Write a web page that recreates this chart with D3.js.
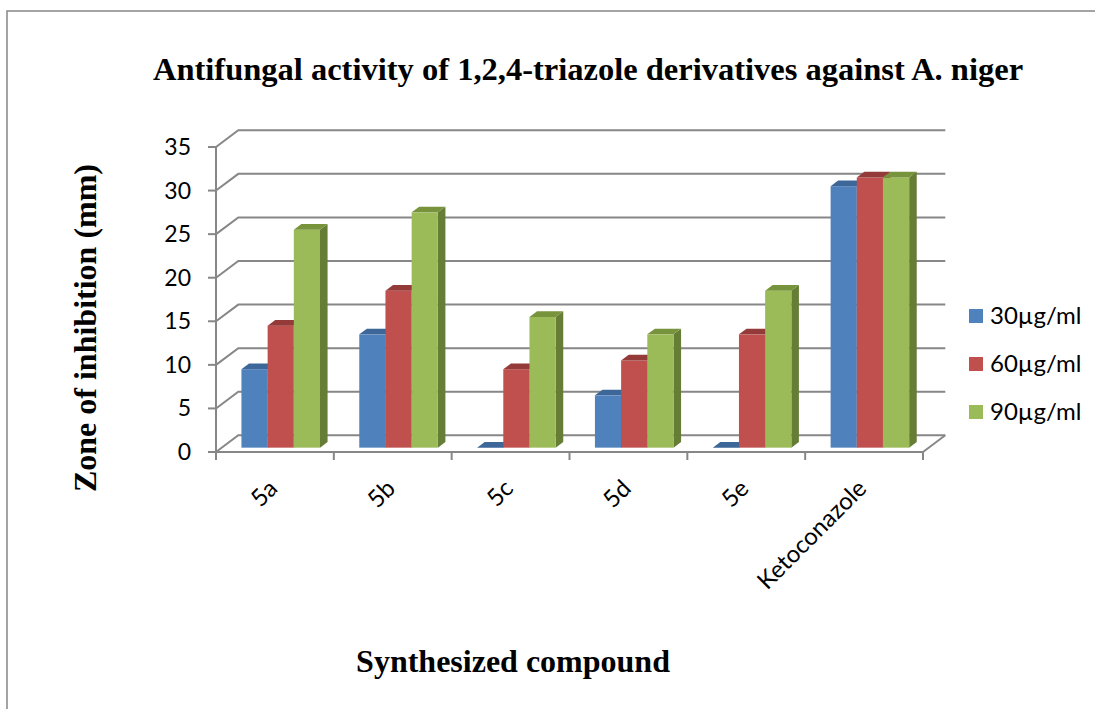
<!DOCTYPE html>
<html>
<head>
<meta charset="utf-8">
<script src="https://cdn.jsdelivr.net/npm/d3@7"></script>
<style>
  body { margin: 0; background: #fff; }
  svg { display: block; }
</style>
</head>
<body>
<div id="chart"></div>
<script>
// chart data
const compounds = ['5a', '5b', '5c', '5d', '5e', 'Ketoconazole'];
const seriesNames = ['30µg/ml', '60µg/ml', '90µg/ml'];
const conc30 = [9, 13, 0, 6, 0, 30];
const conc60 = [14, 18, 9, 10, 13, 31];
const conc90 = [25, 27, 15, 13, 18, 31];
const yTicks = [0, 5, 10, 15, 20, 25, 30, 35];

const seriesValues = [conc30, conc60, conc90];
const colors = [
  { front: '#4f81bd', top: '#3d6699', side: '#385d8a' },
  { front: '#c0504d', top: '#943a38', side: '#8c3836' },
  { front: '#9bbb59', top: '#77933c', side: '#657d35' }
];

const width = 1095, height = 709;
// front plane of the plot and the 3D depth offset
const plot = { left: 216, right: 923, top: 147, bottom: 452 };
const depth = { dx: 22.3, dy: -16.7 };
const barDepth = { t0: 0.26, t1: 0.6 };

const sans = 'Lato, "Open Sans", sans-serif';
const serif = '"Liberation Serif", "Times New Roman", serif';

const svg = d3.select('#chart').append('svg')
  .attr('width', width)
  .attr('height', height);

// outer chart border
svg.append('rect')
  .attr('x', 7).attr('y', 11)
  .attr('width', 1200).attr('height', 900)
  .attr('fill', '#fff')
  .attr('stroke', '#868686')
  .attr('stroke-width', 1.5);

const x = d3.scaleBand().domain(compounds).range([plot.left, plot.right]);
const xs = d3.scaleBand().domain(d3.range(seriesNames.length))
  .range([0, x.bandwidth()])
  .paddingInner(0)
  .paddingOuter(0.75);
const y = d3.scaleLinear().domain([0, 35]).range([plot.bottom, plot.top]);

// project a point of the front plane to depth t (0 = front, 1 = back wall)
const proj = (px, py, t) => [px + t * depth.dx, py + t * depth.dy];
const poly = pts => pts.map(p => p.join(',')).join(' ');

const grid = svg.append('g')
  .attr('fill', 'none')
  .attr('stroke', '#878787')
  .attr('stroke-width', 2);

// back wall gridlines plus the diagonal side wall lines
yTicks.forEach(v => {
  grid.append('polyline')
    .attr('points', poly([proj(plot.left, y(v), 0), proj(plot.left, y(v), 1), proj(plot.right, y(v), 1)]));
});

// floor: front edge and right edge
const f1 = proj(plot.right, y(0), 0), f2 = proj(plot.right, y(0), 1);
grid.append('line')
  .attr('x1', plot.left).attr('y1', y(0))
  .attr('x2', plot.right).attr('y2', y(0));
grid.append('line')
  .attr('x1', f1[0]).attr('y1', f1[1])
  .attr('x2', f2[0]).attr('y2', f2[1]);

// y axis line and ticks
grid.append('line')
  .attr('x1', plot.left).attr('y1', y(35))
  .attr('x2', plot.left).attr('y2', y(0));
yTicks.forEach(v => {
  grid.append('line')
    .attr('x1', plot.left - 8).attr('y1', y(v))
    .attr('x2', plot.left).attr('y2', y(v));
});
// x ticks at category boundaries
d3.range(compounds.length + 1).forEach(i => {
  const px = plot.left + i * x.step();
  grid.append('line')
    .attr('x1', px).attr('y1', y(0))
    .attr('x2', px).attr('y2', y(0) + 8);
});

// bars, drawn left to right so each bar hides its left neighbour's side
const bars = svg.append('g');
compounds.forEach((c, ci) => {
  seriesValues.forEach((vals, si) => {
    const v = vals[ci];
    const x0 = x(c) + xs(si), x1 = x0 + xs.bandwidth();
    const yb = y(0), yt = y(v);
    const col = colors[si];
    // right side face
    bars.append('polygon')
      .attr('points', poly([proj(x1, yb, barDepth.t0), proj(x1, yb, barDepth.t1),
        proj(x1, yt, barDepth.t1), proj(x1, yt, barDepth.t0)]))
      .attr('fill', col.side);
    // front face
    const a = proj(x0, yt, barDepth.t0), b = proj(x1, yb, barDepth.t0);
    bars.append('rect')
      .attr('x', a[0]).attr('y', a[1])
      .attr('width', b[0] - a[0]).attr('height', b[1] - a[1])
      .attr('fill', col.front);
    // top face
    bars.append('polygon')
      .attr('points', poly([proj(x0, yt, barDepth.t0), proj(x1, yt, barDepth.t0),
        proj(x1, yt, barDepth.t1), proj(x0, yt, barDepth.t1)]))
      .attr('fill', col.top);
  });
});

// y tick labels
svg.append('g').selectAll('text')
  .data(yTicks)
  .join('text')
  .attr('x', 191)
  .attr('y', d => y(d))
  .attr('dy', '0.35em')
  .attr('text-anchor', 'end')
  .attr('font-family', sans)
  .attr('font-size', 23)
  .attr('fill', '#000')
  .text(d => d);

// x tick labels, rotated
svg.append('g').selectAll('text')
  .data(compounds)
  .join('text')
  .attr('transform', d => `translate(${x(d) + x.bandwidth() / 2 + 4},${490}) rotate(-45)`)
  .attr('text-anchor', 'end')
  .attr('font-family', sans)
  .attr('font-size', 24)
  .attr('fill', '#000')
  .text(d => d);

// legend
const legend = svg.append('g');
seriesNames.forEach((s, i) => {
  const cy = 316 + i * 48;
  legend.append('rect')
    .attr('x', 969).attr('y', cy - 7)
    .attr('width', 14).attr('height', 14)
    .attr('fill', colors[i].front);
  legend.append('text')
    .attr('x', 990).attr('y', cy)
    .attr('dy', '0.35em')
    .attr('font-family', sans)
    .attr('font-size', 24)
    .attr('fill', '#000')
    .text(s);
});

// titles
svg.append('text')
  .attr('x', 588).attr('y', 80)
  .attr('text-anchor', 'middle')
  .attr('font-family', serif)
  .attr('font-weight', 'bold')
  .attr('font-size', 32.5)
  .text('Antifungal activity of 1,2,4-triazole derivatives against A. niger');

svg.append('text')
  .attr('x', 513).attr('y', 672)
  .attr('text-anchor', 'middle')
  .attr('font-family', serif)
  .attr('font-weight', 'bold')
  .attr('font-size', 32)
  .text('Synthesized compound');

svg.append('text')
  .attr('transform', 'translate(96,328) rotate(-90)')
  .attr('text-anchor', 'middle')
  .attr('font-family', serif)
  .attr('font-weight', 'bold')
  .attr('font-size', 32)
  .text('Zone of inhibition (mm)');
</script>
</body>
</html>
